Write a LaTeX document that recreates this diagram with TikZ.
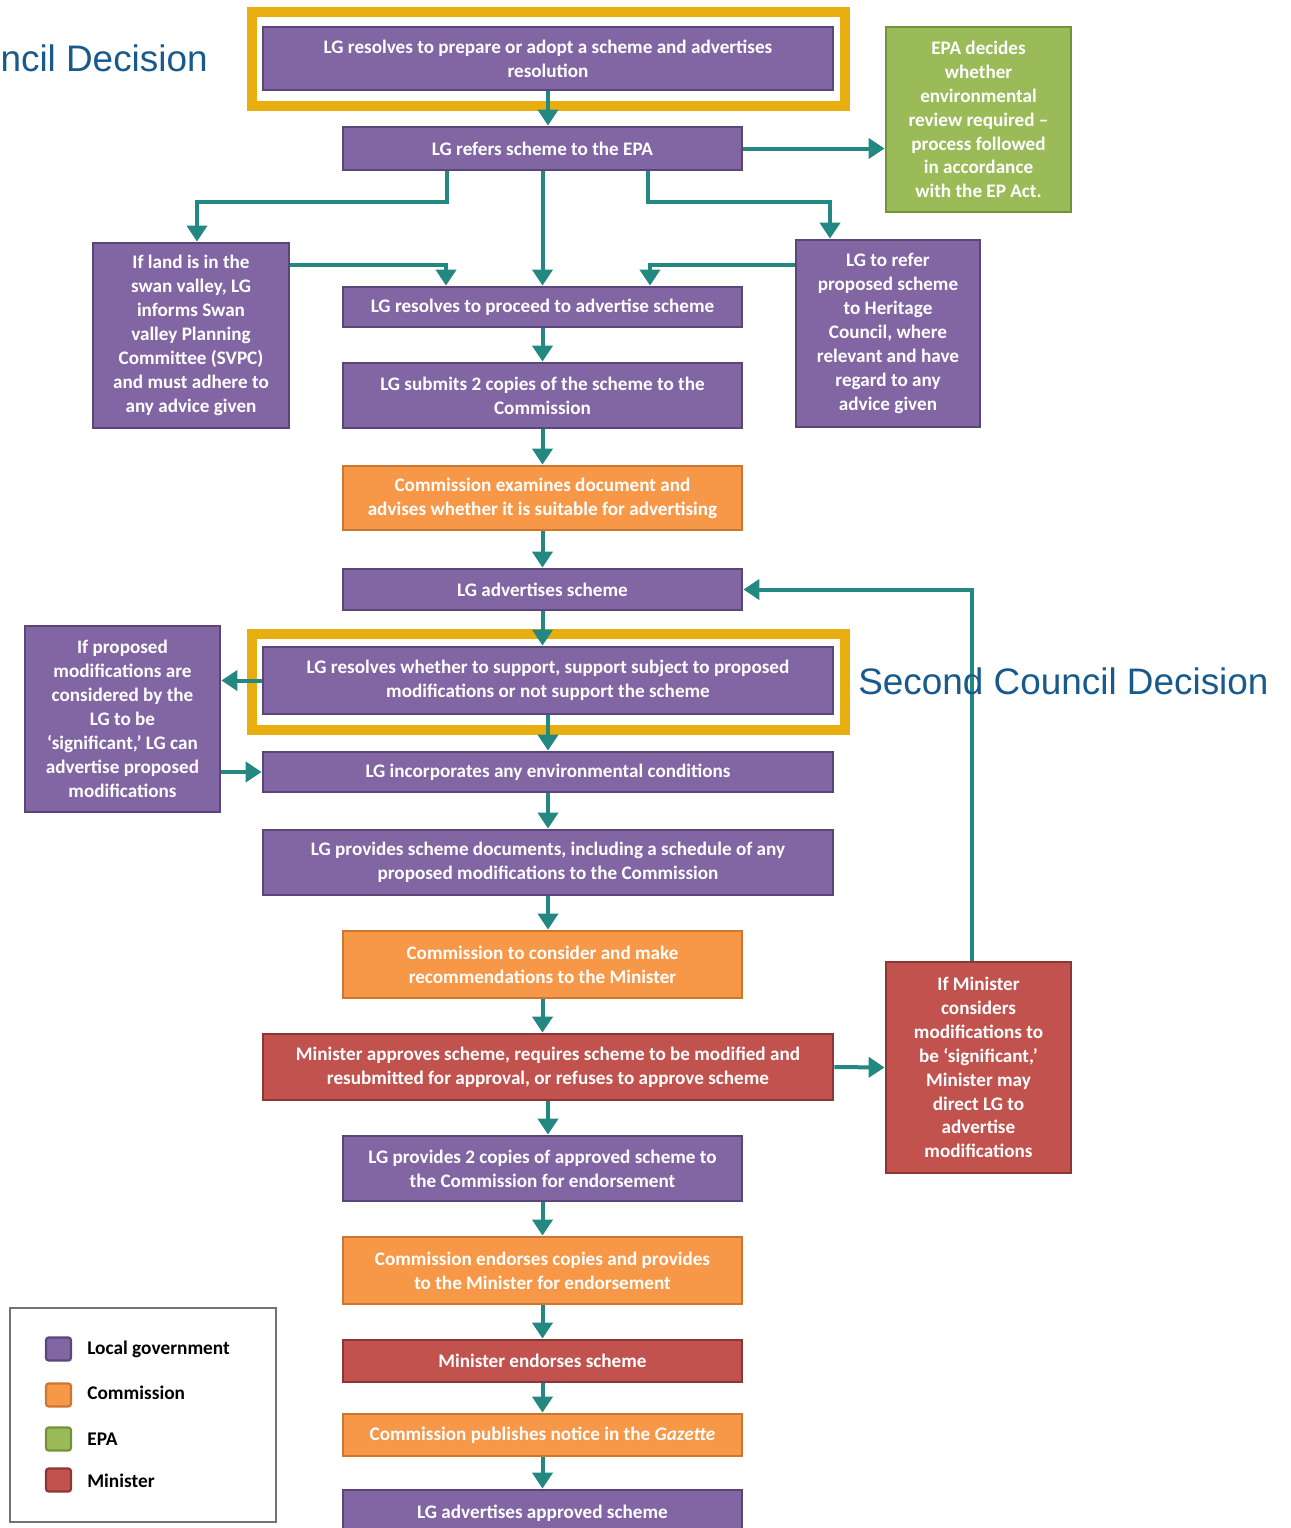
\documentclass[tikz,border=0pt]{standalone}
\usepackage{fontspec}
\setmainfont{Carlito}
\newfontfamily\arialf{Liberation Sans}
\usetikzlibrary{arrows.meta}
\definecolor{lgfill}{RGB}{130,102,164}
\definecolor{lgdraw}{RGB}{92,70,120}
\definecolor{cofill}{RGB}{247,152,72}
\definecolor{codraw}{RGB}{205,118,48}
\definecolor{mifill}{RGB}{194,82,78}
\definecolor{midraw}{RGB}{140,55,52}
\definecolor{epfill}{RGB}{155,187,89}
\definecolor{epdraw}{RGB}{116,146,58}
\definecolor{teal2}{RGB}{36,136,130}
\definecolor{frameyel}{RGB}{232,174,16}
\definecolor{txtblue}{RGB}{24,90,140}
\tikzset{
  box/.style={rectangle, line width=1.6pt, text=white, align=center, inner sep=2pt,
    font=\bfseries\fontsize{10.9}{13.6}\selectfont},
  lg/.style={box, fill=lgfill, draw=lgdraw},
  co/.style={box, fill=cofill, draw=codraw},
  mi/.style={box, fill=mifill, draw=midraw},
  ep/.style={box, fill=epfill, draw=epdraw},
  wide/.style={minimum width=11.4cm},
  mid/.style={minimum width=7.98cm},
  arr/.style={draw=teal2, line width=0.08cm, -{Triangle[width=0.4cm,length=0.32cm]}},
  yframe/.style={draw=frameyel, line width=0.2cm},
  decis/.style={text=txtblue, font=\arialf\fontsize{21}{25}\selectfont, inner sep=0pt},
  legsq/.style={rectangle, rounded corners=1.5pt, line width=1.2pt, minimum width=0.5cm, minimum height=0.46cm, inner sep=0pt},
  legtxt/.style={font=\bfseries\fontsize{11}{13}\selectfont, anchor=west, inner sep=0pt}
}
\begin{document}
\begin{tikzpicture}[x=0.02cm,y=-0.02cm]
\useasboundingbox (0,0) rectangle (1291,1528);
\fill[white] (0,0) rectangle (1291,1528);

% nodes
\node[lg, wide, minimum height=1.26cm] (top) at (548,58.5) {LG resolves to prepare or adopt a scheme and advertises\\resolution};
\node[lg, mid, minimum height=0.86cm] (refers) at (542.5,148.5) {LG refers scheme to the EPA};
\node[ep, minimum width=3.7cm, minimum height=3.7cm] (epa) at (978.5,119.5) {EPA decides\\whether\\environmental\\review required –\\process followed\\in accordance\\with the EP Act.};
\node[lg, minimum width=3.92cm, minimum height=3.7cm] (swan) at (191,335.5) {If land is in the\\swan valley, LG\\informs Swan\\valley Planning\\Committee (SVPC)\\and must adhere to\\any advice given};
\node[lg, minimum width=3.68cm, minimum height=3.74cm] (herit) at (888,333.5) {LG to refer\\proposed scheme\\to Heritage\\Council, where\\relevant and have\\regard to any\\advice given};
\node[lg, mid, minimum height=0.8cm] (proceed) at (542.5,307) {LG resolves to proceed to advertise scheme};
\node[lg, mid, minimum height=1.3cm] (submits) at (542.5,395.5) {LG submits 2 copies of the scheme to the\\Commission};
\node[co, mid, minimum height=1.28cm] (examines) at (542.5,498) {Commission examines document and\\advises whether it is suitable for advertising};
\node[lg, mid, minimum height=0.82cm] (advert) at (542.5,589.5) {LG advertises scheme};
\node[lg, wide, minimum height=1.34cm] (whether) at (548,680.5) {LG resolves whether to support, support subject to proposed\\modifications or not support the scheme};
\node[lg, minimum width=3.9cm, minimum height=3.72cm] (mods) at (122.5,719) {If proposed\\modifications are\\considered by the\\LG to be\\‘significant,’ LG can\\advertise proposed\\modifications};
\node[lg, wide, minimum height=0.8cm] (incorp) at (548,772) {LG incorporates any environmental conditions};
\node[lg, wide, minimum height=1.3cm] (docs) at (548,862.5) {LG provides scheme documents, including a schedule of any\\proposed modifications to the Commission};
\node[co, mid, minimum height=1.34cm] (consider) at (542.5,964.5) {Commission to consider and make\\recommendations to the Minister};
\node[mi, wide, minimum height=1.32cm] (approves) at (548,1067) {Minister approves scheme, requires scheme to be modified and\\resubmitted for approval, or refuses to approve scheme};
\node[mi, minimum width=3.7cm, minimum height=4.22cm] (minr) at (978.5,1067.5) {If Minister\\considers\\modifications to\\be ‘significant,’\\Minister may\\direct LG to\\advertise\\modifications};
\node[lg, mid, minimum height=1.3cm] (copies) at (542.5,1168.5) {LG provides 2 copies of approved scheme to\\the Commission for endorsement};
\node[co, mid, minimum height=1.34cm] (cendorse) at (542.5,1270.5) {Commission endorses copies and provides\\to the Minister for endorsement};
\node[mi, mid, minimum height=0.84cm] (mendorse) at (542.5,1361) {Minister endorses scheme};
\node[co, mid, minimum height=0.84cm] (publish) at (542.5,1435) {Commission publishes notice in the \textit{Gazette}};
\node[lg, mid, minimum height=0.92cm] (final) at (542.5,1513) {LG advertises approved scheme};

% yellow frames
\draw[yframe] (252,12) rectangle (845,106);
\draw[yframe] (252,634) rectangle (845,730);

% connectors
\draw[arr] (top.south) -- (top.south |- refers.north);
\draw[arr] (refers.east) -- (epa.west |- refers.east);
\draw[arr] ([xshift=-1.91cm]refers.south) |- ([xshift=0.12cm,yshift=0.8cm]swan.north) -- ([xshift=0.12cm]swan.north);
\draw[arr] (refers.south) -- (proceed.north);
\draw[arr] ([xshift=2.11cm]refers.south) |- ([xshift=-1.16cm,yshift=0.74cm]herit.north) -- ([xshift=-1.16cm]herit.north);
\draw[arr] ([yshift=1.41cm]swan.east) -| ([xshift=-1.93cm]proceed.north);
\draw[arr] ([yshift=1.37cm]herit.west) -| ([xshift=2.15cm]proceed.north);
\draw[arr] (proceed.south) -- (submits.north);
\draw[arr] (submits.south) -- (examines.north);
\draw[arr] (examines.south) -- (advert.north);
\draw[arr] (advert.south) -- (advert.south |- whether.north);
\draw[arr] (whether.west) -- (whether.west -| mods.east);
\draw[arr] (mods.east |- incorp.west) -- (incorp.west);
\draw[arr] (whether.south) -- (incorp.north);
\draw[arr] (incorp.south) -- (docs.north);
\draw[arr] (docs.south) -- (docs.south |- consider.north);
\draw[arr] (consider.south) -- (consider.south |- approves.north);
\draw[arr] (approves.east) -- (minr.west);
\draw[arr] ([xshift=-0.13cm]minr.north) |- (advert.east);
\draw[arr] (approves.south) -- (approves.south |- copies.north);
\draw[arr] (copies.south) -- (cendorse.north);
\draw[arr] (cendorse.south) -- (mendorse.north);
\draw[arr] (mendorse.south) -- (publish.north);
\draw[arr] (publish.south) -- (final.north);

% decision labels
\node[decis, anchor=east] (first) at (208,58) {ncil Decision};
\node[decis, anchor=west] (second) at (858,681) {Second Council Decision};

% legend
\node[draw=black!55, line width=1.2pt, minimum width=5.32cm, minimum height=4.28cm, inner sep=0pt] (legend) at (143,1415) {};
\node[legsq, fill=lgfill, draw=lgdraw] (sq1) at (58.5,1349) {};
\node[legsq, fill=cofill, draw=codraw] (sq2) at (58.5,1395) {};
\node[legsq, fill=epfill, draw=epdraw] (sq3) at (58.5,1439) {};
\node[legsq, fill=mifill, draw=midraw] (sq4) at (58.5,1480) {};
\node[legtxt] (t1) at (87,1349) {Local government};
\node[legtxt] (t2) at (87,1393) {Commission};
\node[legtxt] (t3) at (87,1439) {EPA};
\node[legtxt] (t4) at (87,1481) {Minister};
\end{tikzpicture}
\end{document}
